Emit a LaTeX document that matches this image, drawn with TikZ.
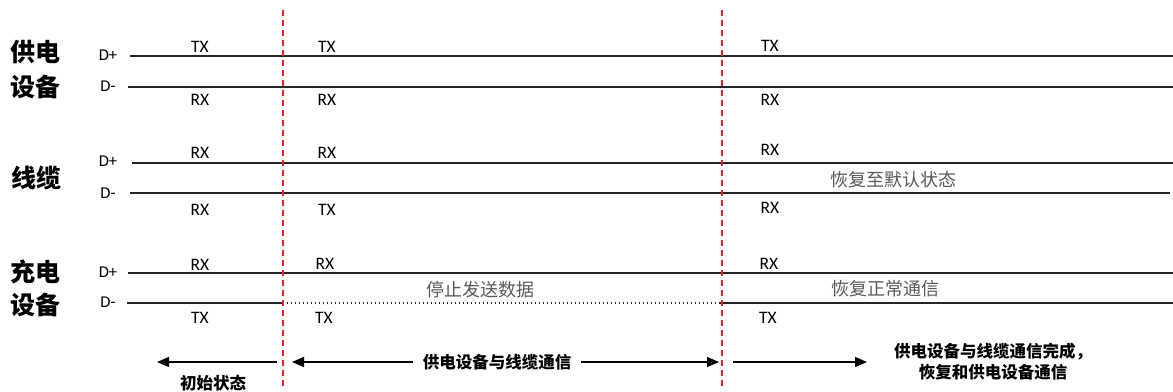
\documentclass[tikz,border=0pt]{standalone}
\usepackage{fontspec}
\setmainfont{Carlito}
\newfontfamily\cjk{Noto Sans CJK SC}
\usetikzlibrary{arrows.meta}
\definecolor{grayt}{HTML}{595959}
\definecolor{redd}{HTML}{E8222A}
\begin{document}
\begin{tikzpicture}[x=1pt,y=-1pt,
  lbl/.style={font=\fontsize{17.5}{19}\selectfont, inner sep=0pt},
  dlbl/.style={font=\fontsize{16.5}{18}\selectfont, inner sep=0pt},
  ttl/.style={font=\cjk\bfseries\fontsize{25}{28}\selectfont, inner sep=0pt},
  note/.style={font=\cjk\fontsize{18}{20}\selectfont, text=grayt, inner sep=0pt},
  bnote/.style={font=\cjk\bfseries\fontsize{16.5}{21}\selectfont, inner sep=0pt, align=center},
  pline/.style={line width=1.2pt, draw=black!85},
  mline/.style={line width=1.8pt, draw=black!85},
  dotline/.style={line width=1.2pt, draw=black!85, dash pattern=on 1.2pt off 2.8pt},
  divline/.style={line width=1.2pt, draw=redd, dash pattern=on 6pt off 4pt},
  arr/.style={line width=1.3pt, -{Triangle[length=12pt,width=10pt]}},
  plain/.style={line width=1.3pt}
]
\useasboundingbox (0,0) rectangle (1173,391);

% titles
\node[ttl] (t1a) at (35,52) {供电};
\node[ttl] (t1b) at (35,87) {设备};
\node[ttl] (t2) at (36,178) {线缆};
\node[ttl] (t3a) at (35,272) {充电};
\node[ttl] (t3b) at (35,305) {设备};

% D labels
\node[dlbl] (d1p) at (108,55) {D+};
\node[dlbl] (d1m) at (108,86) {D-};
\node[dlbl] (d2p) at (108,161) {D+};
\node[dlbl] (d2m) at (108,193) {D-};
\node[dlbl] (d3p) at (108,272) {D+};
\node[dlbl] (d3m) at (108,302) {D-};

% line endpoints
\coordinate (a1s) at (130,56);  \coordinate (a1e) at (1173,56);
\coordinate (b1s) at (128,87);  \coordinate (b1e) at (1173,87);
\coordinate (a2s) at (132,163); \coordinate (a2e) at (1173,163);
\coordinate (b2s) at (130,193); \coordinate (b2e) at (1170,193);
\coordinate (a3s) at (128,273); \coordinate (a3e) at (1173,273);
\coordinate (b3s) at (127,303); \coordinate (b3m) at (283,303);
\coordinate (b3n) at (720,303); \coordinate (b3e) at (1173,303);

\draw[pline] (a1s) -- (a1e);
\draw[mline] (b1s) -- (b1e);
\draw[pline] (a2s) -- (a2e);
\draw[mline] (b2s) -- (b2e);
\draw[pline] (a3s) -- (a3e);
\draw[mline] (b3s) -- (b3m);
\draw[dotline] (b3m) -- (b3n);
\draw[mline] (b3n) -- (b3e);

% TX/RX labels
\node[lbl] (r1a) at (200,47) {TX};
\node[lbl] (r1b) at (327,47) {TX};
\node[lbl] (r1c) at (770,46) {TX};
\node[lbl] (s1a) at (200,100) {RX};
\node[lbl] (s1b) at (327,100) {RX};
\node[lbl] (s1c) at (770,100) {RX};

\node[lbl] (r2a) at (200,153) {RX};
\node[lbl] (r2b) at (327,153) {RX};
\node[lbl] (r2c) at (770,150) {RX};
\node[lbl] (s2a) at (200,210) {RX};
\node[lbl] (s2b) at (327,210) {TX};
\node[lbl] (s2c) at (770,208) {RX};

\node[lbl] (r3a) at (200,265) {RX};
\node[lbl] (r3b) at (325,264) {RX};
\node[lbl] (r3c) at (769,264) {RX};
\node[lbl] (s3a) at (200,318) {TX};
\node[lbl] (s3b) at (324,318) {TX};
\node[lbl] (s3c) at (768,318) {TX};

% notes
\node[note] (n1) at (893,180) {恢复至默认状态};
\node[note] (n2) at (480,290) {停止发送数据};
\node[note] (n3) at (885,289) {恢复正常通信};

% dividers
\coordinate (v1t) at (283,10); \coordinate (v1b) at (283,388);
\coordinate (v2t) at (722,10); \coordinate (v2b) at (722,388);
\draw[divline] (v1t) -- (v1b);
\draw[divline] (v2t) -- (v2b);

% bottom arrows
\coordinate (p1s) at (277,362); \coordinate (p1e) at (157,362);
\draw[arr] (p1s) -- (p1e);
\node[bnote] (l1) at (213,383) {初始状态};

\node[bnote] (l2) at (497,362) {供电设备与线缆通信};
\coordinate (p2e) at (292,362); \coordinate (p3e) at (719,362);
\draw[arr] (l2.west) ++(-10,0) -- (p2e);
\draw[arr] (l2.east) ++(10,0) -- (p3e);

\coordinate (p4s) at (733,362); \coordinate (p4e) at (867,362);
\draw[arr] (p4s) -- (p4e);
\node[bnote] (l3) at (993,362) {供电设备与线缆通信完成，\\恢复和供电设备通信};
\end{tikzpicture}
\end{document}
